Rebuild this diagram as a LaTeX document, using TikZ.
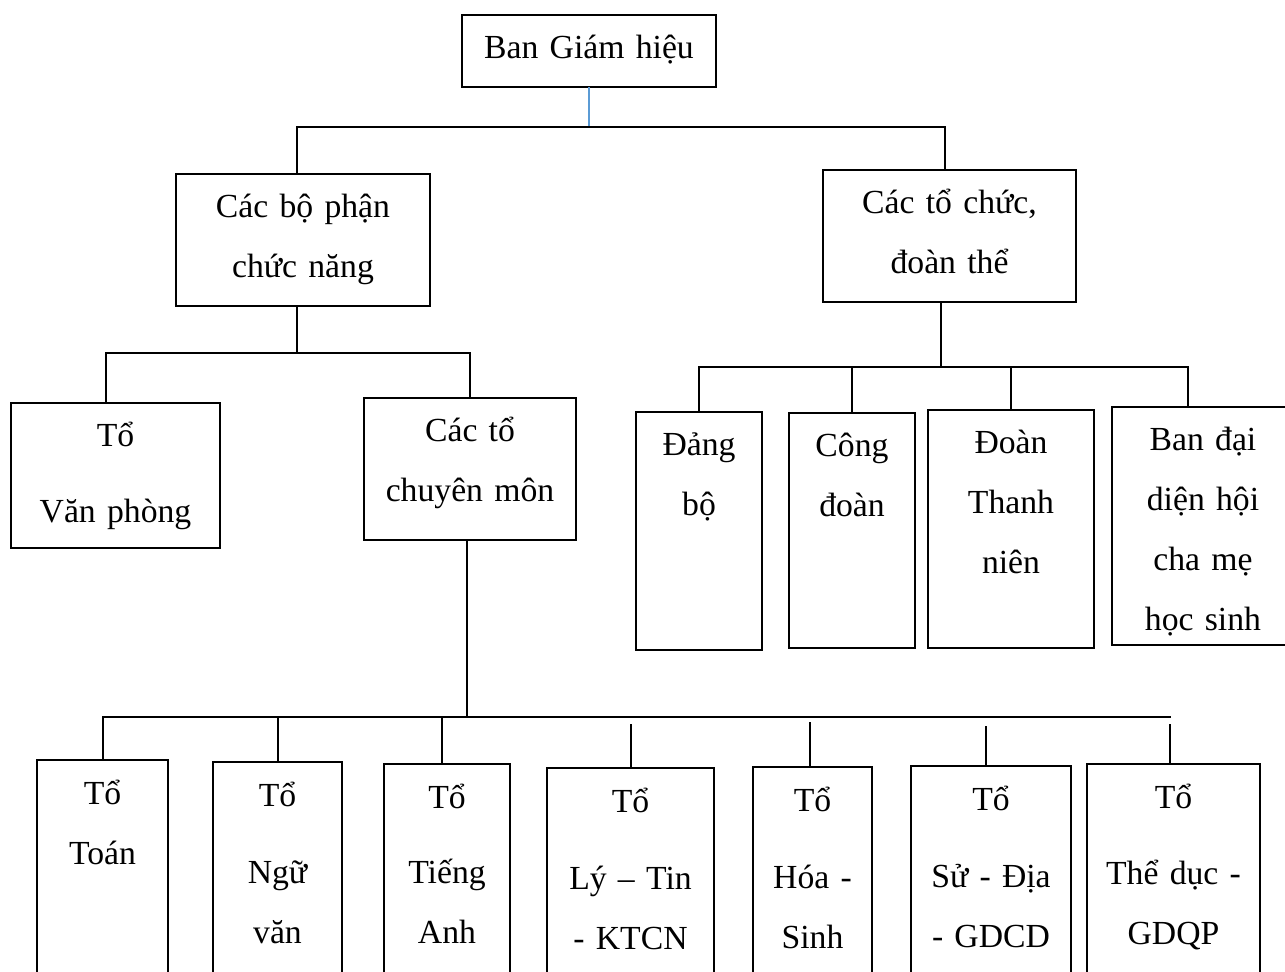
\documentclass[tikz,border=0pt]{standalone}
\usepackage{fontspec}
\setmainfont{Liberation Serif}
\definecolor{lineblue}{HTML}{5B9BD5}

\begin{document}
\begin{tikzpicture}[
    x=0.5pt, y=-0.5pt,
    khung/.style={draw, line width=1pt, inner sep=0pt, outer sep=0pt, anchor=north west,
        align=center, text height=22pt, font=\fontsize{16.85}{30}\selectfont},
    dims/.style 2 args={text width=#1, text depth=#2},
    noi/.style={draw, line width=1pt},
    noixanh/.style={draw=lineblue, line width=0.75pt}
]
    \useasboundingbox (0,0) rectangle (1285,972);
    \clip (0,0) rectangle (1285,972);

    % top levels
    \node[khung, dims={127pt}{14pt}] (bgh) at (462,15) {Ban Giám hiệu};
    \node[khung, dims={127pt}{44pt}] (bophan) at (176,174) {Các bộ phận\\chức năng};
    \node[khung, dims={126.5pt}{44pt}] (tochuc) at (823,170) {Các tổ chức,\\đoàn thể};

    \node[khung, dims={104.5pt}{50.5pt}] (vanphong) at (11,403) {Tổ\\[8pt]Văn phòng};
    \node[khung, dims={106pt}{49pt}] (chuyenmon) at (364,398) {Các tổ\\chuyên môn};

    % organisations
    \node[khung, dims={63pt}{97pt}] (dang) at (636,412) {Đảng\\bộ};
    \node[khung, dims={63pt}{95.5pt}] (congdoan) at (789,413) {Công\\đoàn};
    \node[khung, dims={83pt}{97pt}] (doantn) at (928,410) {Đoàn\\Thanh\\niên};
    \node[khung, dims={91pt}{97pt}] (chame) at (1112,407) {Ban đại\\diện hội\\cha mẹ\\học sinh};

    % subject groups
    \node[khung, dims={65.5pt}{92.5pt}] (toan) at (37,760) {Tổ\\Toán};
    \node[khung, dims={64.5pt}{92.5pt}] (nguvan) at (213,762) {Tổ\\[8.5pt]Ngữ\\văn};
    \node[khung, dims={63pt}{91.5pt}] (tienganh) at (384,764) {Tổ\\[7.5pt]Tiếng\\Anh};
    \node[khung, dims={83.5pt}{90pt}] (lytin) at (547,768) {Tổ\\[8.5pt]Lý – Tin\\- KTCN};
    \node[khung, dims={59.5pt}{91pt}] (hoasinh) at (753,767) {Tổ\\[8.5pt]Hóa -\\Sinh};
    \node[khung, dims={80pt}{91pt}] (sudia) at (911,766) {Tổ\\[8.5pt]Sử - Địa\\- GDCD};
    \node[khung, dims={86.5pt}{91.5pt}] (theduc) at (1087,764) {Tổ\\[8pt]Thể dục -\\GDQP};

    % bus lines
    \coordinate (busA) at (589,127);
    \coordinate (busB) at (297,353);
    \coordinate (busC) at (941,367);
    \coordinate (busD) at (467,717);
    \coordinate (busE) at (1171,717);

    \draw[noixanh] (bgh.south) -- (busA);
    \draw[noi] ([xshift=-3pt]bophan.north) |- (busA) -| ([xshift=-2.25pt]tochuc.north);

    \draw[noi] ([xshift=-3pt]bophan.south) -- (busB);
    \draw[noi] ([xshift=-4.75pt]vanphong.north) |- (busB) -| (chuyenmon.north);

    \draw[noi] ([xshift=-4.25pt]tochuc.south) -- (busC);
    \draw[noi] (dang.north) |- (busC) -| ([xshift=-7.5pt]chame.north);
    \draw[noi] (congdoan.north) -- (congdoan.north |- busC);
    \draw[noi] (doantn.north) -- (doantn.north |- busC);

    \draw[noi] ([xshift=-1.5pt]chuyenmon.south) -- (busD);
    \draw[noi] (toan.north) |- (busD) -- (busE);
    \draw[noi] (nguvan.north) -- (nguvan.north |- busD);
    \draw[noi] ([xshift=-2.5pt]tienganh.north) -- ([xshift=-2.5pt]tienganh.north |- busD);
    \draw[noi, shorten >=3.5pt] (lytin.north) -- (lytin.north |- busD);
    \draw[noi, shorten >=2.5pt] ([xshift=-1.25pt]hoasinh.north) -- ([xshift=-1.25pt]hoasinh.north |- busD);
    \draw[noi, shorten >=4.5pt] ([xshift=-2.5pt]sudia.north) -- ([xshift=-2.5pt]sudia.north |- busD);
    \draw[noi, shorten >=3.5pt] ([xshift=-1.75pt]theduc.north) -- ([xshift=-1.75pt]theduc.north |- busD);
\end{tikzpicture}
\end{document}
